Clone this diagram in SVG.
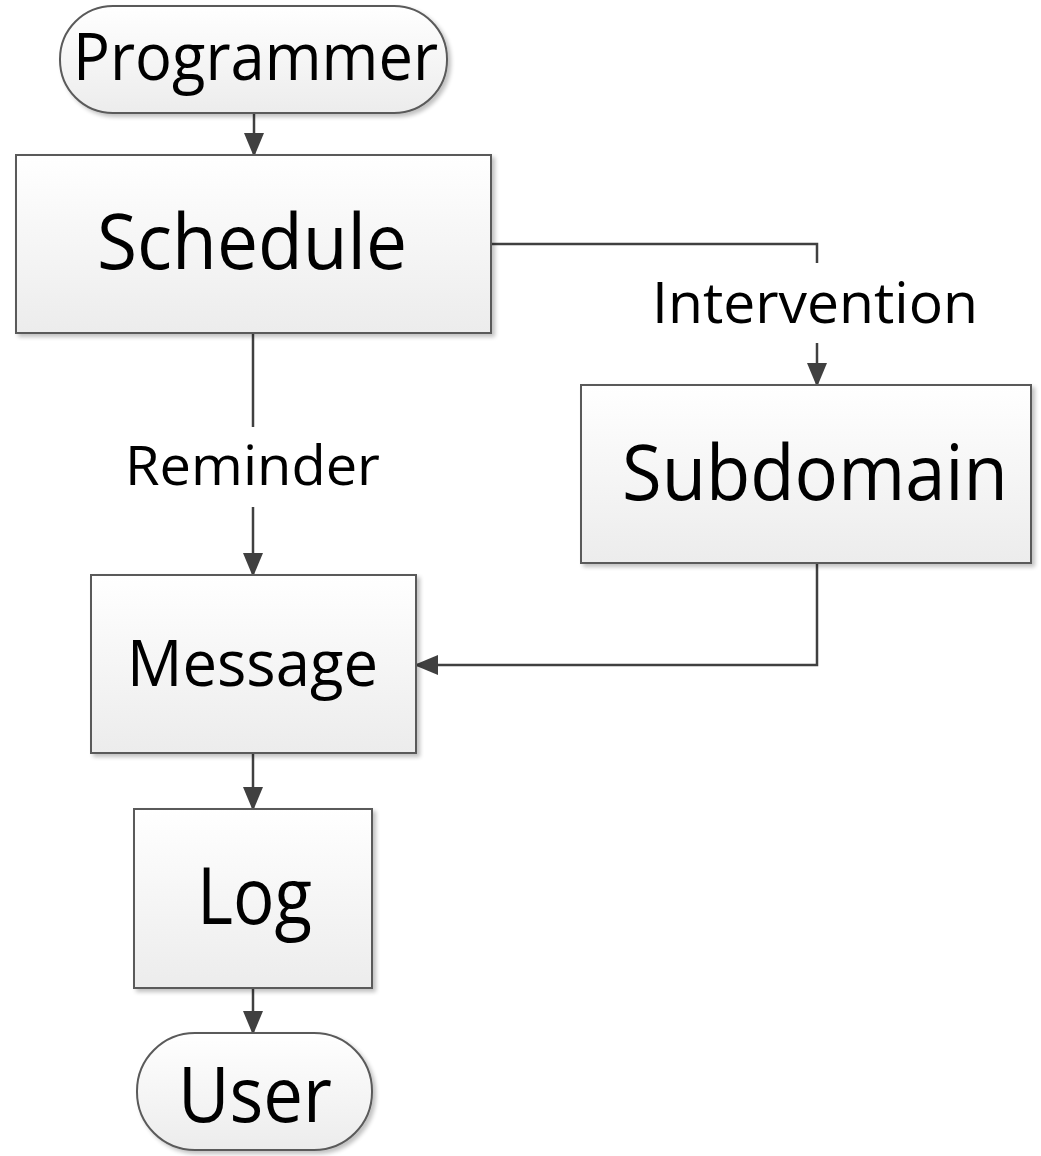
<svg xmlns="http://www.w3.org/2000/svg" width="1041" height="1156" viewBox="0 0 1041 1156">
<defs>
<linearGradient id="g" x1="0" y1="0" x2="0" y2="1">
<stop offset="0" stop-color="#ffffff"/>
<stop offset="1" stop-color="#ececec"/>
</linearGradient>
<filter id="sh" x="-5%" y="-5%" width="115%" height="115%">
<feGaussianBlur in="SourceAlpha" stdDeviation="2"/>
<feOffset dx="3" dy="3"/>
<feComponentTransfer><feFuncA type="linear" slope="0.25"/></feComponentTransfer>
<feMerge><feMergeNode/><feMergeNode in="SourceGraphic"/></feMerge>
</filter>
<marker id="big" markerWidth="24" markerHeight="24" refX="22" refY="12" orient="auto" markerUnits="userSpaceOnUse" viewBox="0 0 24 24">
<path d="M0,2 L24,12 L0,22 Z" fill="#404040"/>
</marker>
</defs>
<style>
.box{fill:url(#g);stroke:#5a5a5a;stroke-width:2;filter:url(#sh)}
.t{font-family:"Open Sans","Liberation Sans",sans-serif;fill:#000;text-anchor:start}
.c{fill:none;stroke:#404040;stroke-width:2.5}
</style>
<rect width="1041" height="1156" fill="#ffffff"/>
<g id="connectors">
<line class="c" x1="254" y1="113" x2="254" y2="155" marker-end="url(#big)"/>
<polyline class="c" points="491,244 817,244 817,263"/>
<line class="c" x1="817" y1="343" x2="817" y2="385" marker-end="url(#big)"/>
<line class="c" x1="253" y1="333" x2="253" y2="427"/>
<line class="c" x1="253" y1="507" x2="253" y2="575" marker-end="url(#big)"/>
<polyline class="c" points="817,563 817,665 416,665" marker-end="url(#big)"/>
<line class="c" x1="253" y1="753" x2="253" y2="809" marker-end="url(#big)"/>
<line class="c" x1="253" y1="988" x2="253" y2="1033" marker-end="url(#big)"/>
<text class="t" x="652" y="323" font-size="56" textLength="326" lengthAdjust="spacingAndGlyphs">Intervention</text>
<text class="t" x="125" y="485" font-size="54" textLength="255" lengthAdjust="spacingAndGlyphs">Reminder</text>
</g>
<g id="programmer">
<rect class="box" x="60" y="6" width="387" height="107" rx="53" ry="53"/>
<text class="t" x="73" y="80" font-size="66" textLength="365" lengthAdjust="spacingAndGlyphs">Programmer</text>
</g>
<g id="schedule">
<rect class="box" x="16" y="155" width="475" height="178"/>
<text class="t" x="97" y="269" font-size="77" textLength="310" lengthAdjust="spacingAndGlyphs">Schedule</text>
</g>
<g id="subdomain">
<rect class="box" x="581" y="385" width="450" height="178"/>
<text class="t" x="622" y="500" font-size="77" textLength="386" lengthAdjust="spacingAndGlyphs">Subdomain</text>
</g>
<g id="message">
<rect class="box" x="91" y="575" width="325" height="178"/>
<text class="t" x="127" y="686" font-size="64" textLength="251" lengthAdjust="spacingAndGlyphs">Message</text>
</g>
<g id="log">
<rect class="box" x="134" y="809" width="238" height="179"/>
<text class="t" x="197" y="924" font-size="78" textLength="115" lengthAdjust="spacingAndGlyphs">Log</text>
</g>
<g id="user">
<rect class="box" x="137" y="1033" width="235" height="117" rx="58" ry="58"/>
<text class="t" x="178" y="1122" font-size="77" textLength="154" lengthAdjust="spacingAndGlyphs">User</text>
</g>
</svg>
